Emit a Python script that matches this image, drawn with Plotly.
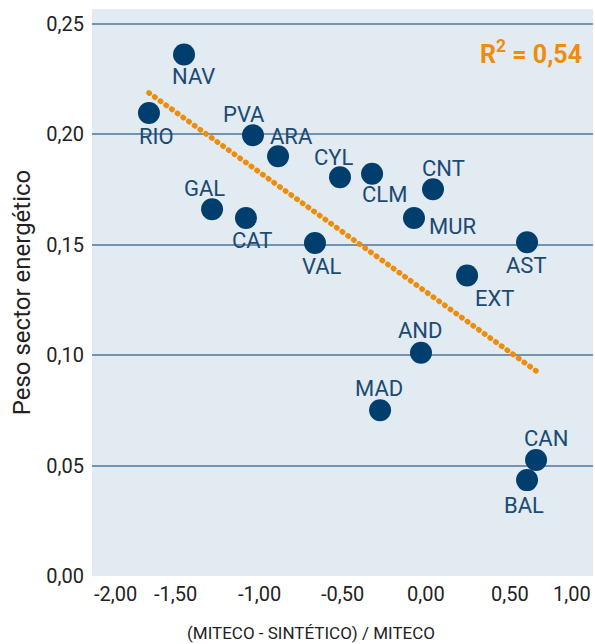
import numpy as np
import plotly.graph_objects as go

# ---- data ----
regions = ["NAV", "RIO", "PVA", "ARA", "CYL", "CLM", "CNT", "GAL", "CAT",
           "MUR", "VAL", "AST", "EXT", "AND", "MAD", "CAN", "BAL"]
x_dev = [-1.449, -1.659, -1.036, -0.886, -0.515, -0.323, 0.042, -1.281, -1.078,
         -0.072, -0.665, 0.605, 0.246, -0.030, -0.275, 0.659, 0.605]
y_peso = [0.236, 0.2095, 0.1995, 0.190, 0.1805, 0.182, 0.175, 0.166, 0.162,
          0.162, 0.1507, 0.151, 0.136, 0.101, 0.075, 0.0525, 0.0434]
x_ticks = [-2.0, -1.5, -1.0, -0.5, 0.0, 0.5, 1.0]
y_ticks = [0.0, 0.05, 0.10, 0.15, 0.20, 0.25]
r2_text = "R<sup>2</sup> = 0,54"
x_title = "(MITECO - SINTÉTICO) / MITECO"
y_title = "Peso sector energético"

# ---- label placement (pixel offsets from marker) ----
label_offsets = {
    "NAV": (9, -22), "RIO": (8, -23), "PVA": (-9, 21), "ARA": (13, 20),
    "CYL": (-6, 20), "CLM": (12, -21), "CNT": (10, 21), "GAL": (-8, 21),
    "CAT": (6, -22), "MUR": (39, -8), "VAL": (7, -23), "AST": (-1, -23),
    "EXT": (27, -23), "AND": (-1, 22), "MAD": (-1, 22), "CAN": (10, 21),
    "BAL": (-3, -25),
}

NAVY = "#003f6d"
LABEL = "#1b4a72"
ORANGE = "#ee8c0b"
GRID = "#7393b3"
BG = "#e2eaf2"
TXT = "#222222"
FONT = "Roboto"

# plot area in pixels
L, R, T, B, W, H = 92, 593, 9, 576, 595, 644

fig = go.Figure()

# trend line from least squares fit
coef = np.polyfit(x_dev, y_peso, 1)
xt = np.array([min(x_dev), max(x_dev)])
yt = np.polyval(coef, xt)
fig.add_trace(go.Scatter(
    x=xt, y=yt, mode="lines",
    line=dict(color=ORANGE, width=5.5, dash="0.5px,6.5px"),
    hoverinfo="skip", showlegend=False))

fig.add_trace(go.Scatter(
    x=x_dev, y=y_peso, mode="markers",
    marker=dict(size=22, color=NAVY, line=dict(width=0)),
    text=regions, showlegend=False))

annotations = []
for r, xv, yv in zip(regions, x_dev, y_peso):
    dx, dy = label_offsets[r]
    annotations.append(dict(
        x=xv, y=yv, xref="x", yref="y", text=r, showarrow=False,
        xshift=dx, yshift=dy, xanchor="center", yanchor="middle",
        font=dict(family=FONT, size=22, color=LABEL)))

# x tick labels (edge labels kept inside plot width)
for i, v in enumerate(x_ticks):
    anchor = "left" if i == 0 else ("right" if i == len(x_ticks) - 1 else "center")
    annotations.append(dict(
        x=v, y=0, xref="x", yref="paper", text=f"{v:.2f}".replace(".", ","),
        showarrow=False, xanchor=anchor, yanchor="top", yshift=-4,
        font=dict(family=FONT, size=20, color=TXT)))

annotations.append(dict(
    x=(311 - L) / (R - L), y=(B - 633) / (B - T), xref="paper", yref="paper",
    text=x_title, showarrow=False, xanchor="center", yanchor="middle",
    font=dict(family=FONT, size=17, color=TXT)))

annotations.append(dict(
    x=(584 - L) / (R - L), y=(B - 52) / (B - T), xref="paper", yref="paper",
    text=r2_text, showarrow=False, xanchor="right", yanchor="middle",
    font=dict(family=FONT, size=25, color=ORANGE, weight="bold")))

fig.update_layout(
    width=W, height=H,
    margin=dict(l=L, r=W - R, t=T, b=H - B, autoexpand=False),
    paper_bgcolor="white", plot_bgcolor=BG,
    separators=",.",
    annotations=annotations,
    xaxis=dict(range=[-2, 1], tickvals=x_ticks, showticklabels=False,
               showgrid=False, zeroline=False, showline=False, ticks=""),
    yaxis=dict(range=[0, 0.2566], tickvals=y_ticks, tickformat=".2f",
               showgrid=True, gridcolor=GRID, gridwidth=1.5,
               zeroline=False, showline=False, ticks="", ticklabelstandoff=7,
               automargin=False,
               tickfont=dict(family=FONT, size=20, color=TXT),
               title=dict(text=y_title, standoff=8,
                          font=dict(family=FONT, size=24, color=TXT))),
    font=dict(family=FONT),
)

post = ("document.body.style.margin='0';"
        "document.querySelectorAll('.js-line').forEach(function(p)"
        "{p.style.strokeLinecap='round';});")

fig.write_html("out.html", config={"displayModeBar": False}, post_script=post)
